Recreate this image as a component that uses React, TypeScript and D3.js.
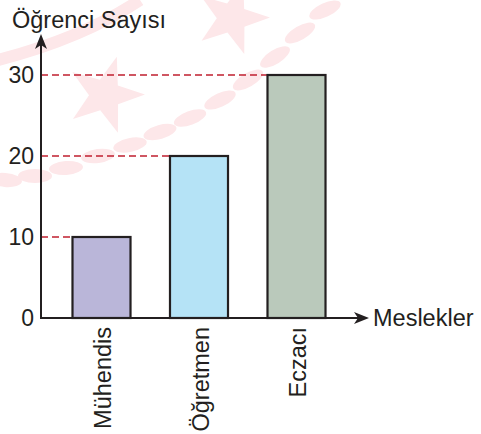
import { useEffect, useRef } from 'react'
import * as d3 from 'd3'

const categories = ['Mühendis', 'Öğretmen', 'Eczacı']
const values = [10, 20, 30]
const barColors = ['#bab6d9', '#b5e3f6', '#bac9bb']
const yTicks = [0, 10, 20, 30]

const yTitle = 'Öğrenci Sayısı'
const xTitle = 'Meslekler'

const W = 481
const H = 434
const FONT = 'Liberation Sans, Arial, sans-serif'

// the faint logo behind the chart
const starCenters: [number, number, number][] = [
  [105, 95, 40],
  [232, 18, 38],
]
const leafs: [number, number, number][] = [
  [325, 10, -25], [300, 33, -30], [275, 57, -32], [248, 80, -30], [220, 100, -25],
  [190, 118, -20], [160, 132, -16], [130, 145, -12], [98, 156, -8], [66, 168, -4], [35, 176, 0], [5, 180, 5],
]

const starPath = (cx: number, cy: number, r: number) => {
  const pts: [number, number][] = []
  for (let i = 0; i < 10; i++) {
    const rr = i % 2 === 0 ? r : r * 0.4
    const a = -Math.PI / 2 + (i * Math.PI) / 5 + 0.3
    pts.push([cx + rr * Math.cos(a), cy + rr * Math.sin(a)])
  }
  return d3.line()(pts.concat([pts[0]]))
}

const App = () => {
  const ref = useRef<SVGSVGElement>(null)

  useEffect(() => {
    if (!ref.current) return
    const svg = d3.select(ref.current)
    svg.selectAll('*').remove()

    const x = d3.scaleBand<string>()
      .domain(categories)
      .range([52.75, 345.25])
      .paddingInner(0.405)
      .paddingOuter(0.2025)

    const y = d3.scaleLinear().domain([0, 30]).range([318, 75])
    const x0 = 41

    //watermark
    const wm = svg.append('g').attr('fill', '#fde7e9')
    starCenters.forEach(([cx, cy, r]) => wm.append('path').attr('d', starPath(cx, cy, r)))
    wm.append('path')
      .attr('d', 'M -10 62 Q 80 40 140 0')
      .attr('fill', 'none')
      .attr('stroke', '#fde7e9')
      .attr('stroke-width', 12)
    wm.selectAll('ellipse.leaf')
      .data(leafs)
      .join('ellipse')
        .attr('rx', 17)
        .attr('ry', 7)
        .attr('transform', d => `translate(${d[0]},${d[1]}) rotate(${d[2]})`)

    //dashed guide lines
    svg.append('g')
      .selectAll('line')
      .data(values)
      .join('line')
        .attr('x1', x0)
        .attr('x2', (d, i) => x(categories[i])!)
        .attr('y1', d => y(d))
        .attr('y2', d => y(d))
        .attr('stroke', '#c01f2f')
        .attr('stroke-width', 1.7)
        .attr('stroke-dasharray', '7,4')

    //bars
    svg.append('g')
      .selectAll('rect')
      .data(values)
      .join('rect')
        .attr('x', (d, i) => x(categories[i])!)
        .attr('y', d => y(d))
        .attr('width', x.bandwidth())
        .attr('height', d => y(0) - y(d))
        .attr('fill', (d, i) => barColors[i])
        .attr('stroke', '#231f20')
        .attr('stroke-width', 2.2)

    //axes
    const axis = svg.append('g').attr('stroke', '#231f20').attr('stroke-width', 2)
    axis.append('line').attr('x1', x0).attr('x2', x0).attr('y1', y(0) + 1).attr('y2', 44)
    axis.append('line').attr('x1', x0).attr('x2', 358).attr('y1', y(0)).attr('y2', y(0))
    svg.append('path')
      .attr('d', `M ${x0} 34 L ${x0 + 6} 49 L ${x0} 45 L ${x0 - 6} 49 Z`)
      .attr('fill', '#231f20')
    svg.append('path')
      .attr('d', `M 369 ${y(0)} L 354 ${y(0) - 6} L 358 ${y(0)} L 354 ${y(0) + 6} Z`)
      .attr('fill', '#231f20')

    //tick labels
    svg.append('g')
      .selectAll('text')
      .data(yTicks)
      .join('text')
        .attr('x', 34)
        .attr('y', d => y(d))
        .attr('dy', '0.36em')
        .attr('text-anchor', 'end')
        .attr('font-family', FONT)
        .attr('font-size', 23)
        .attr('fill', '#231f20')
        .text(d => d)

    //category labels
    svg.append('g')
      .selectAll('text')
      .data(categories)
      .join('text')
        .attr('transform', d => `translate(${x(d)! + x.bandwidth() / 2 + 9.5},327) rotate(-90)`)
        .attr('text-anchor', 'end')
        .attr('font-family', FONT)
        .attr('font-size', 23.5)
        .attr('fill', '#231f20')
        .text(d => d)

    svg.append('text')
      .attr('x', 12)
      .attr('y', 28)
      .attr('font-family', FONT)
      .attr('font-size', 23.5)
      .attr('fill', '#231f20')
      .text(yTitle)

    svg.append('text')
      .attr('x', 373)
      .attr('y', y(0) + 8)
      .attr('font-family', FONT)
      .attr('font-size', 23.5)
      .attr('fill', '#231f20')
      .text(xTitle)
  }, [])

  return (
    <svg
      ref={ref}
      width={W}
      height={H}
      style={{ position: 'absolute', left: 0, top: 0, background: '#fff' }}
    />
  )
}

export default App
